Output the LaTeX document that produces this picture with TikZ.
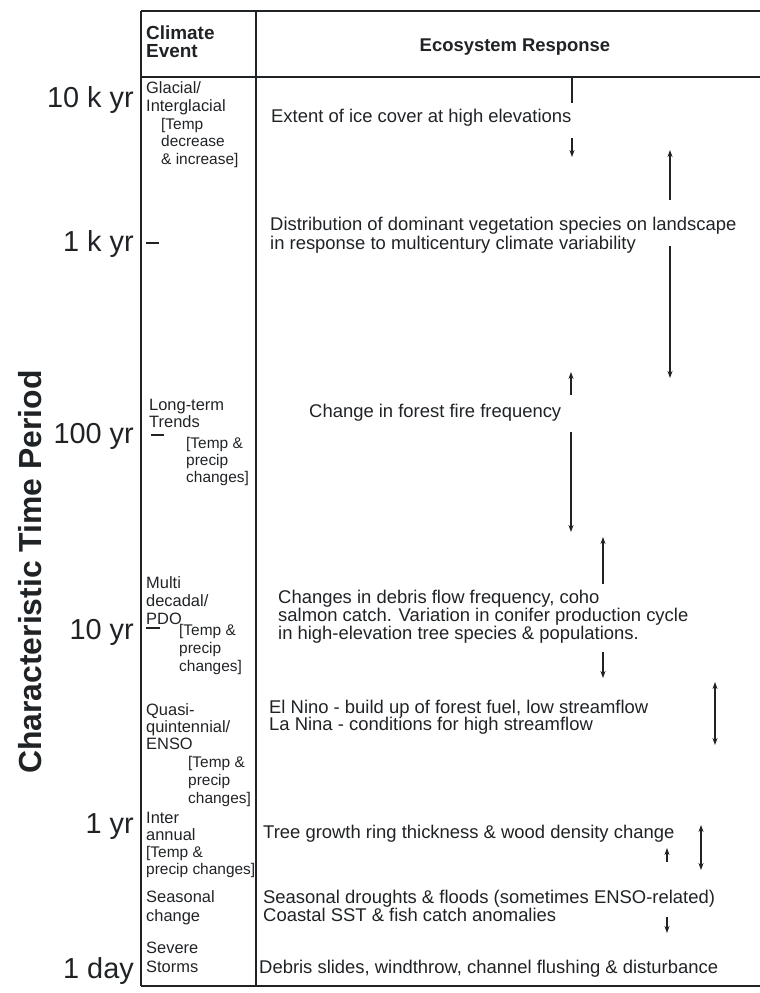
\documentclass[tikz,border=0pt]{standalone}
\usepackage{fontspec}
\setmainfont{Liberation Sans}
\usetikzlibrary{arrows.meta}

\definecolor{ink}{RGB}{32,35,38}

\tikzset{
  table line/.style={draw=ink, line width=1.6bp},
  scale tick/.style={draw=ink, line width=1.3bp},
  scale lbl/.style={anchor=base east, inner sep=0pt, text=ink, font=\fontsize{29}{30}\selectfont},
  axis title/.style={rotate=90, inner sep=0pt, text=ink, font=\bfseries\fontsize{32}{34}\selectfont},
  head/.style={inner sep=0pt, text=ink, align=left, font=\bfseries\fontsize{19}{18}\selectfont},
  % multi-line nodes: anchor is the baseline of the last line
  event/.style={anchor=base west, inner sep=0pt, text=ink, align=left, font=\fontsize{16.5}{#1}\selectfont},
  event/.default=18,
  cause/.style={anchor=base west, inner sep=0pt, text=ink, align=left, font=\fontsize{15.5}{#1}\selectfont},
  cause/.default=17.5,
  response/.style={anchor=base west, inner sep=0pt, text=ink, align=left, font=\fontsize{18.5}{#1}\selectfont},
  response/.default=18.5,
  resp arrow/.style={draw=ink, line width=1.1bp, -{Stealth[length=7bp,width=5bp]}},
  resp both/.style={draw=ink, line width=1.1bp, {Stealth[length=7bp,width=5bp]}-{Stealth[length=7bp,width=5bp]}},
  resp line/.style={draw=ink, line width=1.1bp},
}

\begin{document}
\begin{tikzpicture}[x=1bp, y=-1bp]
  \useasboundingbox (0,0) rectangle (760,993);

  % table frame
  \draw[table line] (141,11) -- (760,11);
  \draw[table line] (141,77) -- (760,77);
  \draw[table line] (141,986) -- (760,986);
  \draw[table line] (141,11) -- (141,986);
  \draw[table line] (256,11) -- (256,986);

  % time axis
  \node[axis title] (period) at (30,572) {Characteristic Time Period};
  \node[scale lbl] (t10k) at (134,107) {10 k yr};
  \node[scale lbl] (t1k)  at (134,251) {1 k yr};
  \node[scale lbl] (t100) at (134,443) {100 yr};
  \node[scale lbl] (t10)  at (134,639) {10 yr};
  \node[scale lbl] (t1)   at (134,833) {1 yr};
  \node[scale lbl] (tday) at (134,978) {1 day};
  \draw[scale tick] (146,243) -- (159,243);
  \draw[scale tick] (151,435) -- (164,435);
  \draw[scale tick] (146,628) -- (160,628);

  % headers
  \node[head, anchor=base west] (hevent) at (146,57) {Climate\\Event};
  \node[head, anchor=base, font=\bfseries\fontsize{18.5}{18.5}\selectfont] (hresp) at (515,51) {Ecosystem Response};

  % climate events
  \node[event] (glacial) at (146,111.5) {Glacial/\\Interglacial};
  \node[cause] (glacialc) at (161,164) {[Temp\\decrease\\\& increase]};
  \node[event=17] (trend) at (149,427.5) {Long-term\\Trends};
  \node[cause=17] (trendc) at (186,482) {[Temp \&\\precip\\changes]};
  \node[event] (pdo) at (146,624.5) {Multi\\decadal/\\PDO};
  \node[cause=18] (pdoc) at (179,671) {[Temp \&\\precip\\changes]};
  \node[event=17] (enso) at (146,749.5) {Quasi-\\quintennial/\\ENSO};
  \node[cause=18] (ensoc) at (188,803) {[Temp \&\\precip\\changes]};
  \node[event=17] (annual) at (146,840.5) {Inter\\annual};
  \node[cause=17] (annualc) at (146,874) {[Temp \&\\precip changes]};
  \node[event=19] (season) at (146,921.5) {Seasonal\\change};
  \node[event=19] (storm) at (146,972.5) {Severe\\Storms};

  % ecosystem responses
  \node[response] (ice) at (271,122) {Extent of ice cover at high elevations};
  \node[response=19] (veg) at (270,249) {Distribution of dominant vegetation species on landscape\\in response to multicentury climate variability};
  \node[response] (fire) at (309,417) {Change in forest fire frequency};
  \node[response=18] (debris) at (278,639) {Changes in debris flow frequency, coho\\salmon catch. Variation in conifer production cycle\\in high-elevation tree species \& populations.};
  \node[response=17.5] (nino) at (269,730.5) {El Nino - build up of forest fuel, low streamflow\\La Nina - conditions for high streamflow};
  \node[response] (ring) at (263,838) {Tree growth ring thickness \& wood density change};
  \node[response=18] (drought) at (263,921) {Seasonal droughts \& floods (sometimes ENSO-related)\\Coastal SST \& fish catch anomalies};
  \node[response] (slide) at (259,973) {Debris slides, windthrow, channel flushing \& disturbance};

  % range arrows
  \coordinate (ice1) at (572,77);  \coordinate (ice2) at (572,103);
  \coordinate (ice3) at (572,138); \coordinate (ice4) at (572,157);
  \coordinate (veg1) at (670,150); \coordinate (veg2) at (670,200);
  \coordinate (veg3) at (670,246); \coordinate (veg4) at (670,378);
  \coordinate (fire1) at (571,372); \coordinate (fire2) at (571,395);
  \coordinate (fire3) at (571,432); \coordinate (fire4) at (571,532);
  \coordinate (pdo1) at (603,537); \coordinate (pdo2) at (603,584);
  \coordinate (pdo3) at (603,652); \coordinate (pdo4) at (603,678);
  \coordinate (enso1) at (715,682); \coordinate (enso2) at (715,745);
  \coordinate (ring1) at (701,825); \coordinate (ring2) at (701,870);
  \coordinate (seas1) at (667,848); \coordinate (seas2) at (667,862);
  \coordinate (seas3) at (667,917); \coordinate (seas4) at (667,933);

  \draw[resp line] (ice1) -- (ice2);
  \draw[resp arrow] (ice3) -- (ice4);
  \draw[resp arrow] (veg2) -- (veg1);
  \draw[resp arrow] (veg3) -- (veg4);
  \draw[resp arrow] (fire2) -- (fire1);
  \draw[resp arrow] (fire3) -- (fire4);
  \draw[resp arrow] (pdo2) -- (pdo1);
  \draw[resp arrow] (pdo3) -- (pdo4);
  \draw[resp both] (enso1) -- (enso2);
  \draw[resp both] (ring1) -- (ring2);
  \draw[resp arrow] (seas2) -- (seas1);
  \draw[resp arrow] (seas3) -- (seas4);
\end{tikzpicture}
\end{document}
